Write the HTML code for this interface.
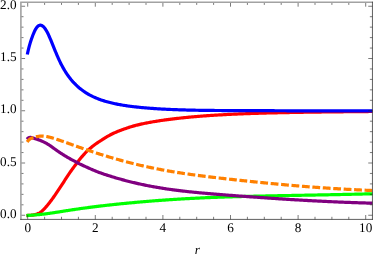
<!DOCTYPE html>
<html><head><meta charset="utf-8"><title>plot</title>
<style>
html,body{margin:0;padding:0;background:#fff;}
body{width:374px;height:259px;overflow:hidden;font-family:"Liberation Serif",serif;}
svg{display:block;position:absolute;left:0;top:0;}
svg.t{will-change:transform;}
</style></head><body>
<svg width="374" height="259" viewBox="0 0 374 259">
<rect width="374" height="259" fill="#fff"/>
<defs><clipPath id="c"><rect x="20.9" y="2.3" width="351.55" height="217.1"/></clipPath></defs>
<g clip-path="url(#c)" fill="none" stroke-linejoin="round">
<path d="M28.00 215.45 L28.50 215.41 L29.00 215.38 L29.50 215.34 L30.00 215.31 L30.50 215.28 L31.00 215.24 L31.50 215.21 L32.00 215.17 L32.50 215.10 L33.00 215.01 L33.50 214.92 L34.00 214.83 L34.50 214.73 L35.00 214.62 L35.50 214.50 L36.00 214.36 L36.50 214.21 L37.00 214.02 L37.50 213.80 L38.00 213.54 L38.50 213.33 L39.00 213.09 L39.50 212.82 L40.00 212.52 L40.50 212.19 L41.00 211.82 L41.50 211.43 L42.00 211.01 L42.50 210.57 L43.00 210.11 L43.50 209.62 L44.00 209.12 L44.50 208.60 L45.00 208.06 L45.50 207.50 L46.00 206.94 L46.50 206.36 L47.00 205.76 L47.50 205.16 L48.00 204.55 L48.50 203.92 L49.00 203.29 L49.50 202.65 L50.00 202.00 L50.50 201.34 L51.00 200.68 L51.50 200.01 L52.00 199.33 L52.50 198.64 L53.00 197.95 L53.50 197.24 L54.00 196.53 L54.50 195.82 L55.00 195.09 L55.50 194.36 L56.00 193.62 L56.50 192.88 L57.00 192.12 L57.50 191.37 L58.00 190.63 L58.50 189.89 L59.00 189.15 L59.50 188.41 L60.00 187.67 L60.50 186.93 L61.00 186.18 L61.50 185.42 L62.00 184.65 L62.50 183.88 L63.00 183.10 L63.50 182.32 L64.00 181.54 L64.50 180.76 L65.00 179.98 L65.50 179.21 L66.00 178.43 L66.50 177.66 L67.00 176.90 L67.50 176.14 L68.00 175.39 L68.50 174.65 L69.00 173.91 L69.50 173.18 L70.00 172.46 L71.00 171.03 L72.00 169.63 L73.00 168.25 L74.00 166.89 L75.00 165.57 L76.00 164.25 L77.00 162.91 L78.00 161.60 L79.00 160.31 L80.00 159.05 L81.00 157.84 L82.00 156.65 L83.00 155.49 L84.00 154.35 L85.00 153.25 L86.00 152.21 L87.00 151.23 L88.00 150.29 L89.00 149.39 L90.00 148.52 L91.00 147.67 L92.00 146.85 L93.00 146.06 L94.00 145.29 L95.00 144.55 L96.00 143.82 L97.00 143.12 L98.00 142.43 L99.00 141.76 L100.00 141.12 L101.00 140.47 L102.00 139.83 L103.00 139.18 L104.00 138.55 L105.00 137.92 L106.00 137.32 L107.00 136.74 L108.00 136.15 L109.00 135.59 L110.00 135.03 L111.00 134.51 L112.00 134.01 L113.00 133.53 L114.00 133.07 L115.00 132.62 L116.00 132.18 L117.00 131.76 L118.00 131.35 L119.00 130.95 L120.00 130.56 L121.00 130.18 L122.00 129.81 L123.00 129.45 L124.00 129.09 L125.00 128.74 L126.00 128.39 L127.00 128.05 L128.00 127.71 L129.00 127.37 L130.00 127.05 L131.00 126.73 L132.00 126.42 L133.00 126.12 L134.00 125.84 L135.00 125.58 L136.00 125.32 L137.00 125.08 L138.00 124.84 L139.00 124.60 L140.00 124.37 L141.00 124.15 L142.00 123.93 L143.00 123.71 L144.00 123.50 L145.00 123.30 L146.00 123.09 L147.00 122.90 L148.00 122.71 L149.00 122.52 L150.00 122.33 L151.00 122.15 L152.00 121.98 L153.00 121.80 L154.00 121.63 L155.00 121.46 L156.00 121.30 L157.00 121.14 L158.00 120.98 L159.00 120.83 L160.00 120.68 L161.00 120.53 L162.00 120.38 L163.00 120.24 L164.00 120.09 L165.00 119.95 L166.00 119.82 L167.00 119.68 L168.00 119.55 L169.00 119.42 L170.00 119.29 L171.00 119.16 L172.00 119.04 L173.00 118.92 L174.00 118.79 L175.00 118.68 L176.00 118.56 L177.00 118.44 L178.00 118.33 L179.00 118.22 L180.00 118.11 L181.00 118.00 L182.00 117.89 L183.00 117.79 L184.00 117.69 L185.00 117.59 L186.00 117.49 L187.00 117.39 L188.00 117.29 L189.00 117.20 L190.00 117.10 L191.00 117.01 L192.00 116.92 L193.00 116.83 L194.00 116.74 L195.00 116.66 L196.00 116.57 L197.00 116.49 L198.00 116.41 L199.00 116.32 L200.00 116.24 L201.00 116.17 L202.00 116.09 L203.00 116.01 L204.00 115.94 L205.00 115.86 L206.00 115.79 L207.00 115.72 L208.00 115.65 L209.00 115.58 L210.00 115.51 L211.00 115.45 L212.00 115.38 L213.00 115.32 L214.00 115.25 L215.00 115.19 L216.00 115.13 L217.00 115.07 L218.00 115.01 L219.00 114.95 L220.00 114.89 L221.00 114.84 L222.00 114.78 L223.00 114.73 L224.00 114.67 L225.00 114.62 L226.00 114.57 L227.00 114.52 L228.00 114.47 L229.00 114.42 L230.00 114.37 L231.00 114.32 L232.00 114.27 L233.00 114.23 L234.00 114.18 L235.00 114.14 L236.00 114.09 L237.00 114.05 L238.00 114.01 L239.00 113.96 L240.00 113.92 L241.00 113.88 L242.00 113.84 L243.00 113.80 L244.00 113.76 L245.00 113.73 L246.00 113.69 L247.00 113.65 L248.00 113.61 L249.00 113.58 L250.00 113.54 L251.00 113.51 L252.00 113.47 L253.00 113.44 L254.00 113.41 L255.00 113.38 L256.00 113.34 L257.00 113.31 L258.00 113.28 L259.00 113.25 L260.00 113.22 L261.00 113.19 L262.00 113.16 L263.00 113.13 L264.00 113.10 L265.00 113.08 L266.00 113.05 L267.00 113.02 L268.00 113.00 L269.00 112.97 L270.00 112.94 L271.00 112.92 L272.00 112.89 L273.00 112.87 L274.00 112.85 L275.00 112.82 L276.00 112.80 L277.00 112.78 L278.00 112.75 L279.00 112.73 L280.00 112.71 L281.00 112.69 L282.00 112.67 L283.00 112.65 L284.00 112.62 L285.00 112.60 L286.00 112.58 L287.00 112.57 L288.00 112.55 L289.00 112.53 L290.00 112.51 L291.00 112.49 L292.00 112.47 L293.00 112.45 L294.00 112.44 L295.00 112.42 L296.00 112.40 L297.00 112.38 L298.00 112.37 L299.00 112.35 L300.00 112.33 L301.00 112.32 L302.00 112.30 L303.00 112.29 L304.00 112.27 L305.00 112.26 L306.00 112.24 L307.00 112.23 L308.00 112.21 L309.00 112.20 L310.00 112.18 L311.00 112.17 L312.00 112.15 L313.00 112.14 L314.00 112.13 L315.00 112.11 L316.00 112.10 L317.00 112.09 L318.00 112.07 L319.00 112.06 L320.00 112.05 L321.00 112.03 L322.00 112.02 L323.00 112.01 L324.00 112.00 L325.00 111.99 L326.00 111.97 L327.00 111.96 L328.00 111.95 L329.00 111.94 L330.00 111.93 L331.00 111.91 L332.00 111.90 L333.00 111.89 L334.00 111.88 L335.00 111.87 L336.00 111.86 L337.00 111.85 L338.00 111.84 L339.00 111.82 L340.00 111.81 L341.00 111.80 L342.00 111.79 L343.00 111.78 L344.00 111.77 L345.00 111.76 L346.00 111.75 L347.00 111.74 L348.00 111.73 L349.00 111.72 L350.00 111.71 L351.00 111.70 L352.00 111.69 L353.00 111.68 L354.00 111.67 L355.00 111.66 L356.00 111.65 L357.00 111.64 L358.00 111.63 L359.00 111.62 L360.00 111.61 L361.00 111.60 L362.00 111.59 L363.00 111.58 L364.00 111.57 L365.00 111.56 L366.00 111.55 L367.00 111.54 L368.00 111.53 L369.00 111.52 L370.00 111.51 L371.00 111.50 L372.00 111.49 L373.00 111.48" stroke="#ff0000" stroke-width="3.2" stroke-linecap="square"/>
<path d="M27.65 52.96 L28.15 50.67 L28.65 48.58 L29.15 46.64 L29.65 44.84 L30.15 43.15 L30.65 41.55 L31.15 40.03 L31.65 38.57 L32.15 37.17 L32.65 35.81 L33.15 34.51 L33.65 33.28 L34.15 32.12 L34.65 31.04 L35.15 30.05 L35.65 29.15 L36.15 28.33 L36.65 27.61 L37.15 26.99 L37.65 26.45 L38.15 26.02 L38.65 25.67 L39.15 25.42 L39.65 25.27 L40.15 25.20 L40.65 25.21 L41.15 25.31 L41.65 25.48 L42.15 25.74 L42.65 26.07 L43.15 26.47 L43.65 26.95 L44.15 27.49 L44.65 28.10 L45.15 28.77 L45.65 29.51 L46.15 30.30 L46.65 31.16 L47.15 32.07 L47.65 33.04 L48.15 34.06 L48.65 35.12 L49.15 36.23 L49.65 37.37 L50.15 38.53 L50.65 39.72 L51.15 40.93 L51.65 42.15 L52.15 43.38 L52.65 44.62 L53.15 45.86 L53.65 47.10 L54.15 48.34 L54.65 49.57 L55.15 50.80 L55.65 52.01 L56.15 53.21 L56.65 54.40 L57.15 55.57 L57.65 56.72 L58.15 57.85 L58.65 58.96 L59.15 60.05 L59.65 61.12 L60.15 62.16 L60.65 63.18 L61.15 64.17 L61.65 65.14 L62.15 66.08 L62.65 67.00 L63.15 67.90 L63.65 68.78 L64.15 69.63 L64.65 70.46 L65.15 71.28 L65.65 72.07 L66.15 72.85 L66.65 73.61 L67.15 74.35 L67.65 75.07 L68.15 75.77 L68.65 76.46 L69.15 77.13 L69.65 77.79 L70.00 78.24 L71.00 79.49 L72.00 80.68 L73.00 81.82 L74.00 82.91 L75.00 83.95 L76.00 84.95 L77.00 85.90 L78.00 86.81 L79.00 87.68 L80.00 88.51 L81.00 89.31 L82.00 90.07 L83.00 90.80 L84.00 91.50 L85.00 92.17 L86.00 92.81 L87.00 93.43 L88.00 94.02 L89.00 94.58 L90.00 95.13 L91.00 95.65 L92.00 96.15 L93.00 96.64 L94.00 97.10 L95.00 97.55 L96.00 97.98 L97.00 98.39 L98.00 98.79 L99.00 99.17 L100.00 99.54 L101.00 99.89 L102.00 100.23 L103.00 100.56 L104.00 100.88 L105.00 101.18 L106.00 101.48 L107.00 101.76 L108.00 102.04 L109.00 102.30 L110.00 102.56 L111.00 102.81 L112.00 103.05 L113.00 103.28 L114.00 103.50 L115.00 103.72 L116.00 103.92 L117.00 104.13 L118.00 104.32 L119.00 104.51 L120.00 104.69 L121.00 104.87 L122.00 105.04 L123.00 105.21 L124.00 105.37 L125.00 105.52 L126.00 105.67 L127.00 105.82 L128.00 105.96 L129.00 106.10 L130.00 106.23 L131.00 106.36 L132.00 106.49 L133.00 106.61 L134.00 106.73 L135.00 106.84 L136.00 106.96 L137.00 107.06 L138.00 107.17 L139.00 107.27 L140.00 107.37 L141.00 107.47 L142.00 107.57 L143.00 107.66 L144.00 107.75 L145.00 107.84 L146.00 107.93 L147.00 108.01 L148.00 108.09 L149.00 108.17 L150.00 108.25 L151.00 108.33 L152.00 108.40 L153.00 108.47 L154.00 108.54 L155.00 108.61 L156.00 108.68 L157.00 108.74 L158.00 108.80 L159.00 108.86 L160.00 108.92 L161.00 108.98 L162.00 109.04 L163.00 109.09 L164.00 109.15 L165.00 109.20 L166.00 109.25 L167.00 109.30 L168.00 109.35 L169.00 109.39 L170.00 109.44 L171.00 109.48 L172.00 109.52 L173.00 109.56 L174.00 109.61 L175.00 109.64 L176.00 109.68 L177.00 109.72 L178.00 109.75 L179.00 109.79 L180.00 109.82 L181.00 109.85 L182.00 109.89 L183.00 109.92 L184.00 109.95 L185.00 109.97 L186.00 110.00 L187.00 110.03 L188.00 110.05 L189.00 110.08 L190.00 110.10 L191.00 110.13 L192.00 110.15 L193.00 110.17 L194.00 110.19 L195.00 110.21 L196.00 110.23 L197.00 110.25 L198.00 110.26 L199.00 110.28 L200.00 110.30 L201.00 110.31 L202.00 110.33 L203.00 110.34 L204.00 110.36 L205.00 110.37 L206.00 110.38 L207.00 110.40 L208.00 110.41 L209.00 110.42 L210.00 110.43 L211.00 110.44 L212.00 110.45 L213.00 110.46 L214.00 110.47 L215.00 110.48 L216.00 110.49 L217.00 110.49 L218.00 110.50 L219.00 110.51 L220.00 110.52 L221.00 110.52 L222.00 110.53 L223.00 110.54 L224.00 110.54 L225.00 110.55 L226.00 110.55 L227.00 110.56 L228.00 110.56 L229.00 110.57 L230.00 110.57 L231.00 110.58 L232.00 110.58 L233.00 110.59 L234.00 110.59 L235.00 110.60 L236.00 110.60 L237.00 110.60 L238.00 110.61 L239.00 110.61 L240.00 110.61 L241.00 110.62 L242.00 110.62 L243.00 110.62 L244.00 110.63 L245.00 110.63 L246.00 110.63 L247.00 110.64 L248.00 110.64 L249.00 110.64 L250.00 110.65 L251.00 110.65 L252.00 110.65 L253.00 110.65 L254.00 110.66 L255.00 110.66 L256.00 110.66 L257.00 110.67 L258.00 110.67 L259.00 110.67 L260.00 110.68 L261.00 110.68 L262.00 110.68 L263.00 110.68 L264.00 110.69 L265.00 110.69 L266.00 110.69 L267.00 110.70 L268.00 110.70 L269.00 110.71 L270.00 110.71 L271.00 110.71 L272.00 110.72 L273.00 110.72 L274.00 110.72 L275.00 110.73 L276.00 110.73 L277.00 110.74 L278.00 110.74 L279.00 110.74 L280.00 110.75 L281.00 110.75 L282.00 110.76 L283.00 110.76 L284.00 110.77 L285.00 110.77 L286.00 110.77 L287.00 110.78 L288.00 110.78 L289.00 110.79 L290.00 110.79 L291.00 110.80 L292.00 110.80 L293.00 110.80 L294.00 110.81 L295.00 110.81 L296.00 110.82 L297.00 110.82 L298.00 110.83 L299.00 110.83 L300.00 110.83 L301.00 110.84 L302.00 110.84 L303.00 110.85 L304.00 110.85 L305.00 110.85 L306.00 110.86 L307.00 110.86 L308.00 110.86 L309.00 110.87 L310.00 110.87 L311.00 110.88 L312.00 110.88 L313.00 110.88 L314.00 110.89 L315.00 110.89 L316.00 110.89 L317.00 110.90 L318.00 110.90 L319.00 110.90 L320.00 110.91 L321.00 110.91 L322.00 110.91 L323.00 110.91 L324.00 110.92 L325.00 110.92 L326.00 110.92 L327.00 110.93 L328.00 110.93 L329.00 110.93 L330.00 110.93 L331.00 110.93 L332.00 110.94 L333.00 110.94 L334.00 110.94 L335.00 110.94 L336.00 110.94 L337.00 110.95 L338.00 110.95 L339.00 110.95 L340.00 110.95 L341.00 110.95 L342.00 110.95 L343.00 110.96 L344.00 110.96 L345.00 110.96 L346.00 110.96 L347.00 110.96 L348.00 110.96 L349.00 110.96 L350.00 110.96 L351.00 110.96 L352.00 110.96 L353.00 110.96 L354.00 110.96 L355.00 110.96 L356.00 110.96 L357.00 110.96 L358.00 110.96 L359.00 110.96 L360.00 110.96 L361.00 110.96 L362.00 110.96 L363.00 110.96 L364.00 110.96 L365.00 110.96 L366.00 110.95 L367.00 110.95 L368.00 110.95 L369.00 110.95 L370.00 110.95 L371.00 110.95 L372.00 110.95 L373.00 110.94" stroke="#0000ff" stroke-width="3.2" stroke-linecap="square"/>
<path d="M28.00 215.45 L28.50 215.41 L29.00 215.38 L29.50 215.34 L30.00 215.31 L30.50 215.28 L31.00 215.24 L31.50 215.21 L32.00 215.17 L32.50 215.13 L33.00 215.10 L33.50 215.06 L34.00 215.02 L34.50 214.98 L35.00 214.94 L35.50 214.90 L36.00 214.86 L36.50 214.82 L37.00 214.77 L37.50 214.73 L38.00 214.68 L38.50 214.64 L39.00 214.59 L39.50 214.54 L40.00 214.49 L40.50 214.44 L41.00 214.39 L41.50 214.33 L42.00 214.28 L42.50 214.22 L43.00 214.17 L43.50 214.11 L44.00 214.05 L44.50 213.99 L45.00 213.93 L45.50 213.87 L46.00 213.81 L46.50 213.74 L47.00 213.68 L47.50 213.61 L48.00 213.54 L48.50 213.47 L49.00 213.40 L49.50 213.33 L50.00 213.26 L50.50 213.19 L51.00 213.12 L51.50 213.04 L52.00 212.97 L52.50 212.89 L53.00 212.82 L53.50 212.74 L54.00 212.67 L54.50 212.59 L55.00 212.51 L55.50 212.44 L56.00 212.36 L56.50 212.28 L57.00 212.20 L57.50 212.12 L58.00 212.05 L58.50 211.97 L59.00 211.89 L59.50 211.81 L60.00 211.73 L60.50 211.65 L61.00 211.57 L61.50 211.49 L62.00 211.41 L62.50 211.33 L63.00 211.26 L63.50 211.18 L64.00 211.10 L64.50 211.02 L65.00 210.94 L65.50 210.86 L66.00 210.78 L66.50 210.70 L67.00 210.63 L67.50 210.55 L68.00 210.47 L68.50 210.39 L69.00 210.32 L69.50 210.24 L70.00 210.16 L71.00 210.01 L72.00 209.85 L73.00 209.70 L74.00 209.55 L75.00 209.40 L76.00 209.26 L77.00 209.11 L78.00 208.96 L79.00 208.82 L80.00 208.68 L81.00 208.53 L82.00 208.39 L83.00 208.25 L84.00 208.12 L85.00 207.98 L86.00 207.85 L87.00 207.71 L88.00 207.58 L89.00 207.45 L90.00 207.32 L91.00 207.19 L92.00 207.06 L93.00 206.93 L94.00 206.81 L95.00 206.68 L96.00 206.56 L97.00 206.44 L98.00 206.31 L99.00 206.19 L100.00 206.07 L101.00 205.96 L102.00 205.84 L103.00 205.72 L104.00 205.61 L105.00 205.49 L106.00 205.38 L107.00 205.27 L108.00 205.15 L109.00 205.04 L110.00 204.93 L111.00 204.82 L112.00 204.72 L113.00 204.61 L114.00 204.50 L115.00 204.40 L116.00 204.29 L117.00 204.19 L118.00 204.09 L119.00 203.98 L120.00 203.88 L121.00 203.78 L122.00 203.68 L123.00 203.58 L124.00 203.48 L125.00 203.38 L126.00 203.29 L127.00 203.19 L128.00 203.10 L129.00 203.00 L130.00 202.91 L131.00 202.81 L132.00 202.72 L133.00 202.63 L134.00 202.54 L135.00 202.44 L136.00 202.35 L137.00 202.26 L138.00 202.18 L139.00 202.09 L140.00 202.00 L141.00 201.91 L142.00 201.83 L143.00 201.74 L144.00 201.66 L145.00 201.57 L146.00 201.49 L147.00 201.40 L148.00 201.32 L149.00 201.24 L150.00 201.16 L151.00 201.08 L152.00 201.00 L153.00 200.92 L154.00 200.84 L155.00 200.77 L156.00 200.69 L157.00 200.61 L158.00 200.54 L159.00 200.46 L160.00 200.39 L161.00 200.32 L162.00 200.24 L163.00 200.17 L164.00 200.10 L165.00 200.03 L166.00 199.96 L167.00 199.89 L168.00 199.83 L169.00 199.76 L170.00 199.69 L171.00 199.62 L172.00 199.56 L173.00 199.49 L174.00 199.43 L175.00 199.37 L176.00 199.30 L177.00 199.24 L178.00 199.18 L179.00 199.12 L180.00 199.06 L181.00 199.00 L182.00 198.94 L183.00 198.88 L184.00 198.83 L185.00 198.77 L186.00 198.71 L187.00 198.66 L188.00 198.60 L189.00 198.55 L190.00 198.49 L191.00 198.44 L192.00 198.39 L193.00 198.34 L194.00 198.29 L195.00 198.24 L196.00 198.19 L197.00 198.14 L198.00 198.09 L199.00 198.04 L200.00 197.99 L201.00 197.95 L202.00 197.90 L203.00 197.85 L204.00 197.81 L205.00 197.76 L206.00 197.72 L207.00 197.68 L208.00 197.64 L209.00 197.59 L210.00 197.55 L211.00 197.51 L212.00 197.47 L213.00 197.43 L214.00 197.39 L215.00 197.35 L216.00 197.32 L217.00 197.28 L218.00 197.24 L219.00 197.20 L220.00 197.17 L221.00 197.13 L222.00 197.10 L223.00 197.06 L224.00 197.03 L225.00 197.00 L226.00 196.97 L227.00 196.93 L228.00 196.90 L229.00 196.87 L230.00 196.84 L231.00 196.81 L232.00 196.78 L233.00 196.75 L234.00 196.72 L235.00 196.69 L236.00 196.67 L237.00 196.64 L238.00 196.61 L239.00 196.58 L240.00 196.56 L241.00 196.53 L242.00 196.50 L243.00 196.48 L244.00 196.45 L245.00 196.43 L246.00 196.40 L247.00 196.38 L248.00 196.36 L249.00 196.33 L250.00 196.31 L251.00 196.29 L252.00 196.26 L253.00 196.24 L254.00 196.22 L255.00 196.19 L256.00 196.17 L257.00 196.15 L258.00 196.13 L259.00 196.11 L260.00 196.09 L261.00 196.06 L262.00 196.04 L263.00 196.02 L264.00 196.00 L265.00 195.98 L266.00 195.96 L267.00 195.94 L268.00 195.92 L269.00 195.90 L270.00 195.88 L271.00 195.86 L272.00 195.84 L273.00 195.82 L274.00 195.80 L275.00 195.78 L276.00 195.76 L277.00 195.74 L278.00 195.72 L279.00 195.70 L280.00 195.69 L281.00 195.67 L282.00 195.65 L283.00 195.63 L284.00 195.61 L285.00 195.59 L286.00 195.57 L287.00 195.55 L288.00 195.53 L289.00 195.52 L290.00 195.50 L291.00 195.48 L292.00 195.46 L293.00 195.44 L294.00 195.42 L295.00 195.40 L296.00 195.39 L297.00 195.37 L298.00 195.35 L299.00 195.33 L300.00 195.31 L301.00 195.29 L302.00 195.27 L303.00 195.26 L304.00 195.24 L305.00 195.22 L306.00 195.20 L307.00 195.18 L308.00 195.16 L309.00 195.14 L310.00 195.12 L311.00 195.11 L312.00 195.09 L313.00 195.07 L314.00 195.05 L315.00 195.03 L316.00 195.01 L317.00 194.99 L318.00 194.97 L319.00 194.95 L320.00 194.93 L321.00 194.91 L322.00 194.89 L323.00 194.87 L324.00 194.85 L325.00 194.84 L326.00 194.82 L327.00 194.80 L328.00 194.78 L329.00 194.76 L330.00 194.74 L331.00 194.72 L332.00 194.70 L333.00 194.68 L334.00 194.65 L335.00 194.63 L336.00 194.61 L337.00 194.59 L338.00 194.57 L339.00 194.55 L340.00 194.53 L341.00 194.51 L342.00 194.49 L343.00 194.47 L344.00 194.45 L345.00 194.42 L346.00 194.40 L347.00 194.38 L348.00 194.36 L349.00 194.34 L350.00 194.32 L351.00 194.29 L352.00 194.27 L353.00 194.25 L354.00 194.23 L355.00 194.20 L356.00 194.18 L357.00 194.16 L358.00 194.14 L359.00 194.11 L360.00 194.09 L361.00 194.07 L362.00 194.04 L363.00 194.02 L364.00 194.00 L365.00 193.97 L366.00 193.95 L367.00 193.93 L368.00 193.90 L369.00 193.88 L370.00 193.85 L371.00 193.83 L372.00 193.80 L373.00 193.78" stroke="#00ff00" stroke-width="3.2" stroke-linecap="square"/>
<path d="M28.00 138.27 L28.50 137.87 L29.00 137.61 L29.50 137.46 L30.00 137.39 L30.50 137.40 L31.00 137.45 L31.50 137.55 L32.00 137.68 L32.50 137.83 L33.00 138.00 L33.50 138.17 L34.00 138.34 L34.50 138.51 L35.00 138.66 L35.50 138.82 L36.00 138.98 L36.50 139.13 L37.00 139.29 L37.50 139.45 L38.00 139.61 L38.50 139.79 L39.00 139.97 L39.50 140.16 L40.00 140.35 L40.50 140.56 L41.00 140.76 L41.50 140.96 L42.00 141.17 L42.50 141.39 L43.00 141.61 L43.50 141.84 L44.00 142.09 L44.50 142.34 L45.00 142.61 L45.50 142.89 L46.00 143.17 L46.50 143.45 L47.00 143.74 L47.50 144.03 L48.00 144.33 L48.50 144.63 L49.00 144.94 L49.50 145.26 L50.00 145.59 L50.50 145.93 L51.00 146.28 L51.50 146.65 L52.00 147.01 L52.50 147.37 L53.00 147.74 L53.50 148.10 L54.00 148.46 L54.50 148.82 L55.00 149.18 L55.50 149.54 L56.00 149.90 L56.50 150.25 L57.00 150.60 L57.50 150.95 L58.00 151.30 L58.50 151.64 L59.00 151.98 L59.50 152.32 L60.00 152.65 L60.50 152.98 L61.00 153.31 L61.50 153.63 L62.00 153.95 L62.50 154.27 L63.00 154.59 L63.50 154.90 L64.00 155.21 L64.50 155.52 L65.00 155.82 L65.50 156.12 L66.00 156.42 L66.50 156.72 L67.00 157.01 L67.50 157.31 L68.00 157.60 L68.50 157.89 L69.00 158.17 L69.50 158.45 L70.00 158.73 L71.00 159.29 L72.00 159.84 L73.00 160.38 L74.00 160.91 L75.00 161.45 L76.00 161.99 L77.00 162.52 L78.00 163.04 L79.00 163.56 L80.00 164.06 L81.00 164.55 L82.00 165.03 L83.00 165.50 L84.00 165.96 L85.00 166.42 L86.00 166.87 L87.00 167.32 L88.00 167.76 L89.00 168.21 L90.00 168.65 L91.00 169.09 L92.00 169.53 L93.00 169.96 L94.00 170.39 L95.00 170.81 L96.00 171.22 L97.00 171.63 L98.00 172.02 L99.00 172.39 L100.00 172.76 L101.00 173.11 L102.00 173.45 L103.00 173.80 L104.00 174.14 L105.00 174.47 L106.00 174.80 L107.00 175.13 L108.00 175.45 L109.00 175.77 L110.00 176.09 L111.00 176.40 L112.00 176.71 L113.00 177.01 L114.00 177.31 L115.00 177.61 L116.00 177.91 L117.00 178.20 L118.00 178.49 L119.00 178.77 L120.00 179.05 L121.00 179.33 L122.00 179.61 L123.00 179.88 L124.00 180.15 L125.00 180.42 L126.00 180.68 L127.00 180.94 L128.00 181.20 L129.00 181.45 L130.00 181.70 L131.00 181.95 L132.00 182.19 L133.00 182.44 L134.00 182.67 L135.00 182.91 L136.00 183.14 L137.00 183.37 L138.00 183.60 L139.00 183.82 L140.00 184.04 L141.00 184.26 L142.00 184.48 L143.00 184.69 L144.00 184.90 L145.00 185.10 L146.00 185.31 L147.00 185.51 L148.00 185.71 L149.00 185.90 L150.00 186.09 L151.00 186.28 L152.00 186.47 L153.00 186.65 L154.00 186.84 L155.00 187.01 L156.00 187.19 L157.00 187.36 L158.00 187.54 L159.00 187.70 L160.00 187.87 L161.00 188.03 L162.00 188.20 L163.00 188.35 L164.00 188.51 L165.00 188.66 L166.00 188.82 L167.00 188.96 L168.00 189.11 L169.00 189.26 L170.00 189.40 L171.00 189.54 L172.00 189.67 L173.00 189.81 L174.00 189.94 L175.00 190.07 L176.00 190.20 L177.00 190.33 L178.00 190.45 L179.00 190.58 L180.00 190.70 L181.00 190.82 L182.00 190.94 L183.00 191.05 L184.00 191.17 L185.00 191.28 L186.00 191.39 L187.00 191.50 L188.00 191.61 L189.00 191.72 L190.00 191.82 L191.00 191.93 L192.00 192.03 L193.00 192.13 L194.00 192.23 L195.00 192.33 L196.00 192.43 L197.00 192.53 L198.00 192.62 L199.00 192.72 L200.00 192.81 L201.00 192.91 L202.00 193.00 L203.00 193.09 L204.00 193.18 L205.00 193.27 L206.00 193.36 L207.00 193.45 L208.00 193.54 L209.00 193.62 L210.00 193.71 L211.00 193.80 L212.00 193.88 L213.00 193.96 L214.00 194.05 L215.00 194.13 L216.00 194.21 L217.00 194.29 L218.00 194.38 L219.00 194.46 L220.00 194.54 L221.00 194.62 L222.00 194.69 L223.00 194.77 L224.00 194.85 L225.00 194.93 L226.00 195.01 L227.00 195.08 L228.00 195.16 L229.00 195.24 L230.00 195.31 L231.00 195.39 L232.00 195.46 L233.00 195.54 L234.00 195.61 L235.00 195.69 L236.00 195.76 L237.00 195.84 L238.00 195.91 L239.00 195.98 L240.00 196.06 L241.00 196.13 L242.00 196.20 L243.00 196.27 L244.00 196.35 L245.00 196.42 L246.00 196.49 L247.00 196.56 L248.00 196.63 L249.00 196.71 L250.00 196.78 L251.00 196.85 L252.00 196.92 L253.00 196.99 L254.00 197.06 L255.00 197.13 L256.00 197.20 L257.00 197.28 L258.00 197.35 L259.00 197.42 L260.00 197.49 L261.00 197.56 L262.00 197.63 L263.00 197.70 L264.00 197.77 L265.00 197.83 L266.00 197.90 L267.00 197.97 L268.00 198.04 L269.00 198.11 L270.00 198.18 L271.00 198.25 L272.00 198.31 L273.00 198.38 L274.00 198.45 L275.00 198.51 L276.00 198.58 L277.00 198.65 L278.00 198.71 L279.00 198.78 L280.00 198.84 L281.00 198.91 L282.00 198.97 L283.00 199.04 L284.00 199.10 L285.00 199.16 L286.00 199.23 L287.00 199.29 L288.00 199.35 L289.00 199.42 L290.00 199.48 L291.00 199.54 L292.00 199.60 L293.00 199.66 L294.00 199.72 L295.00 199.78 L296.00 199.84 L297.00 199.90 L298.00 199.96 L299.00 200.02 L300.00 200.08 L301.00 200.13 L302.00 200.19 L303.00 200.25 L304.00 200.31 L305.00 200.36 L306.00 200.42 L307.00 200.47 L308.00 200.53 L309.00 200.58 L310.00 200.64 L311.00 200.69 L312.00 200.75 L313.00 200.80 L314.00 200.85 L315.00 200.90 L316.00 200.96 L317.00 201.01 L318.00 201.06 L319.00 201.11 L320.00 201.16 L321.00 201.21 L322.00 201.26 L323.00 201.31 L324.00 201.36 L325.00 201.40 L326.00 201.45 L327.00 201.50 L328.00 201.55 L329.00 201.59 L330.00 201.64 L331.00 201.68 L332.00 201.73 L333.00 201.77 L334.00 201.82 L335.00 201.86 L336.00 201.91 L337.00 201.95 L338.00 201.99 L339.00 202.03 L340.00 202.07 L341.00 202.12 L342.00 202.16 L343.00 202.20 L344.00 202.24 L345.00 202.28 L346.00 202.32 L347.00 202.35 L348.00 202.39 L349.00 202.43 L350.00 202.47 L351.00 202.50 L352.00 202.54 L353.00 202.58 L354.00 202.61 L355.00 202.65 L356.00 202.68 L357.00 202.72 L358.00 202.75 L359.00 202.78 L360.00 202.82 L361.00 202.85 L362.00 202.88 L363.00 202.91 L364.00 202.94 L365.00 202.97 L366.00 203.00 L367.00 203.03 L368.00 203.06 L369.00 203.09 L370.00 203.12 L371.00 203.15 L372.00 203.18 L373.00 203.20" stroke="#800080" stroke-width="3.2" stroke-linecap="square"/>
<path d="M27.20 142.00 L27.70 141.24 L28.20 140.61 L28.70 140.07 L29.20 139.62 L29.70 139.24 L30.20 138.91 L30.70 138.63 L31.20 138.39 L31.70 138.17 L32.20 137.98 L32.70 137.81 L33.20 137.64 L33.70 137.49 L34.20 137.34 L34.70 137.19 L35.20 137.05 L35.70 136.92 L36.20 136.79 L36.70 136.68 L37.20 136.57 L37.70 136.47 L38.20 136.38 L38.70 136.30 L39.20 136.24 L39.70 136.18 L40.20 136.13 L40.70 136.10 L41.20 136.08 L41.70 136.06 L42.20 136.06 L42.70 136.07 L43.20 136.09 L43.70 136.13 L44.20 136.17 L44.70 136.22 L45.20 136.29 L45.70 136.36 L46.20 136.44 L46.70 136.53 L47.20 136.62 L47.70 136.72 L48.20 136.83 L48.70 136.95 L49.20 137.07 L49.70 137.19 L50.20 137.32 L50.70 137.45 L51.20 137.59 L51.70 137.73 L52.20 137.87 L52.70 138.02 L53.20 138.17 L53.70 138.32 L54.20 138.48 L54.70 138.64 L55.20 138.80 L55.70 138.96 L56.20 139.12 L56.70 139.29 L57.20 139.45 L57.70 139.62 L58.20 139.79 L58.70 139.96 L59.20 140.13 L59.70 140.30 L60.20 140.48 L60.70 140.65 L61.20 140.82 L61.70 141.00 L62.20 141.17 L62.70 141.35 L63.20 141.52 L63.70 141.70 L64.20 141.88 L64.70 142.06 L65.20 142.23 L65.70 142.41 L66.20 142.59 L66.70 142.77 L67.20 142.95 L67.70 143.12 L68.20 143.30 L68.70 143.48 L69.20 143.66 L69.70 143.84 L70.00 143.95 L71.00 144.30 L72.00 144.66 L73.00 145.02 L74.00 145.37 L75.00 145.73 L76.00 146.08 L77.00 146.44 L78.00 146.79 L79.00 147.14 L80.00 147.49 L81.00 147.84 L82.00 148.19 L83.00 148.54 L84.00 148.88 L85.00 149.23 L86.00 149.57 L87.00 149.91 L88.00 150.25 L89.00 150.59 L90.00 150.92 L91.00 151.26 L92.00 151.59 L93.00 151.92 L94.00 152.25 L95.00 152.57 L96.00 152.90 L97.00 153.22 L98.00 153.54 L99.00 153.86 L100.00 154.18 L101.00 154.49 L102.00 154.80 L103.00 155.11 L104.00 155.42 L105.00 155.73 L106.00 156.04 L107.00 156.34 L108.00 156.64 L109.00 156.94 L110.00 157.23 L111.00 157.53 L112.00 157.82 L113.00 158.11 L114.00 158.40 L115.00 158.69 L116.00 158.98 L117.00 159.26 L118.00 159.54 L119.00 159.82 L120.00 160.10 L121.00 160.37 L122.00 160.65 L123.00 160.92 L124.00 161.19 L125.00 161.46 L126.00 161.72 L127.00 161.98 L128.00 162.24 L129.00 162.50 L130.00 162.76 L131.00 163.01 L132.00 163.27 L133.00 163.52 L134.00 163.76 L135.00 164.01 L136.00 164.25 L137.00 164.49 L138.00 164.73 L139.00 164.97 L140.00 165.20 L141.00 165.44 L142.00 165.67 L143.00 165.89 L144.00 166.12 L145.00 166.34 L146.00 166.56 L147.00 166.78 L148.00 167.00 L149.00 167.22 L150.00 167.43 L151.00 167.64 L152.00 167.85 L153.00 168.05 L154.00 168.26 L155.00 168.46 L156.00 168.66 L157.00 168.86 L158.00 169.05 L159.00 169.25 L160.00 169.44 L161.00 169.63 L162.00 169.81 L163.00 170.00 L164.00 170.18 L165.00 170.36 L166.00 170.54 L167.00 170.72 L168.00 170.90 L169.00 171.07 L170.00 171.24 L171.00 171.41 L172.00 171.58 L173.00 171.74 L174.00 171.91 L175.00 172.07 L176.00 172.23 L177.00 172.39 L178.00 172.55 L179.00 172.70 L180.00 172.86 L181.00 173.01 L182.00 173.16 L183.00 173.31 L184.00 173.46 L185.00 173.61 L186.00 173.75 L187.00 173.90 L188.00 174.04 L189.00 174.18 L190.00 174.32 L191.00 174.46 L192.00 174.60 L193.00 174.74 L194.00 174.87 L195.00 175.01 L196.00 175.14 L197.00 175.28 L198.00 175.41 L199.00 175.54 L200.00 175.67 L201.00 175.80 L202.00 175.93 L203.00 176.05 L204.00 176.18 L205.00 176.31 L206.00 176.43 L207.00 176.56 L208.00 176.68 L209.00 176.80 L210.00 176.93 L211.00 177.05 L212.00 177.17 L213.00 177.29 L214.00 177.41 L215.00 177.53 L216.00 177.64 L217.00 177.76 L218.00 177.88 L219.00 177.99 L220.00 178.11 L221.00 178.23 L222.00 178.34 L223.00 178.45 L224.00 178.57 L225.00 178.68 L226.00 178.79 L227.00 178.91 L228.00 179.02 L229.00 179.13 L230.00 179.24 L231.00 179.35 L232.00 179.46 L233.00 179.57 L234.00 179.68 L235.00 179.79 L236.00 179.89 L237.00 180.00 L238.00 180.11 L239.00 180.22 L240.00 180.32 L241.00 180.43 L242.00 180.54 L243.00 180.64 L244.00 180.75 L245.00 180.85 L246.00 180.96 L247.00 181.06 L248.00 181.17 L249.00 181.27 L250.00 181.38 L251.00 181.48 L252.00 181.58 L253.00 181.69 L254.00 181.79 L255.00 181.89 L256.00 181.99 L257.00 182.09 L258.00 182.20 L259.00 182.30 L260.00 182.40 L261.00 182.50 L262.00 182.60 L263.00 182.70 L264.00 182.80 L265.00 182.90 L266.00 183.00 L267.00 183.09 L268.00 183.19 L269.00 183.29 L270.00 183.39 L271.00 183.48 L272.00 183.58 L273.00 183.68 L274.00 183.77 L275.00 183.87 L276.00 183.96 L277.00 184.05 L278.00 184.15 L279.00 184.24 L280.00 184.33 L281.00 184.43 L282.00 184.52 L283.00 184.61 L284.00 184.70 L285.00 184.79 L286.00 184.88 L287.00 184.97 L288.00 185.06 L289.00 185.14 L290.00 185.23 L291.00 185.32 L292.00 185.40 L293.00 185.49 L294.00 185.58 L295.00 185.66 L296.00 185.75 L297.00 185.83 L298.00 185.91 L299.00 186.00 L300.00 186.08 L301.00 186.16 L302.00 186.24 L303.00 186.32 L304.00 186.40 L305.00 186.48 L306.00 186.56 L307.00 186.64 L308.00 186.72 L309.00 186.79 L310.00 186.87 L311.00 186.94 L312.00 187.02 L313.00 187.10 L314.00 187.17 L315.00 187.24 L316.00 187.32 L317.00 187.39 L318.00 187.46 L319.00 187.53 L320.00 187.60 L321.00 187.67 L322.00 187.74 L323.00 187.81 L324.00 187.88 L325.00 187.95 L326.00 188.02 L327.00 188.08 L328.00 188.15 L329.00 188.22 L330.00 188.28 L331.00 188.35 L332.00 188.41 L333.00 188.47 L334.00 188.54 L335.00 188.60 L336.00 188.66 L337.00 188.72 L338.00 188.78 L339.00 188.84 L340.00 188.90 L341.00 188.96 L342.00 189.02 L343.00 189.07 L344.00 189.13 L345.00 189.19 L346.00 189.24 L347.00 189.30 L348.00 189.35 L349.00 189.41 L350.00 189.46 L351.00 189.51 L352.00 189.56 L353.00 189.62 L354.00 189.67 L355.00 189.72 L356.00 189.77 L357.00 189.82 L358.00 189.86 L359.00 189.91 L360.00 189.96 L361.00 190.01 L362.00 190.05 L363.00 190.10 L364.00 190.14 L365.00 190.19 L366.00 190.23 L367.00 190.28 L368.00 190.32 L369.00 190.36 L370.00 190.40 L371.00 190.45 L372.00 190.49 L373.00 190.53" stroke="#ff8000" stroke-width="3.2" stroke-dasharray="7.8 2.66"/>
</g>
<path d="M27.7 219.4v-4.4M27.7 2.3v4.4M44.6 219.4v-2.6M44.6 2.3v2.6M61.5 219.4v-2.6M61.5 2.3v2.6M78.4 219.4v-2.6M78.4 2.3v2.6M95.3 219.4v-4.4M95.3 2.3v4.4M112.2 219.4v-2.6M112.2 2.3v2.6M129.1 219.4v-2.6M129.1 2.3v2.6M146 219.4v-2.6M146 2.3v2.6M162.9 219.4v-4.4M162.9 2.3v4.4M179.8 219.4v-2.6M179.8 2.3v2.6M196.7 219.4v-2.6M196.7 2.3v2.6M213.6 219.4v-2.6M213.6 2.3v2.6M230.5 219.4v-4.4M230.5 2.3v4.4M247.4 219.4v-2.6M247.4 2.3v2.6M264.3 219.4v-2.6M264.3 2.3v2.6M281.2 219.4v-2.6M281.2 2.3v2.6M298.1 219.4v-4.4M298.1 2.3v4.4M315 219.4v-2.6M315 2.3v2.6M331.9 219.4v-2.6M331.9 2.3v2.6M348.8 219.4v-2.6M348.8 2.3v2.6M365.7 219.4v-4.4M365.7 2.3v4.4M20.9 215.25h4.2M372.45 215.25h-4.2M20.9 204.8h2.6M372.45 204.8h-2.6M20.9 194.35h2.6M372.45 194.35h-2.6M20.9 183.9h2.6M372.45 183.9h-2.6M20.9 173.45h2.6M372.45 173.45h-2.6M20.9 163h4.2M372.45 163h-4.2M20.9 152.55h2.6M372.45 152.55h-2.6M20.9 142.1h2.6M372.45 142.1h-2.6M20.9 131.65h2.6M372.45 131.65h-2.6M20.9 121.2h2.6M372.45 121.2h-2.6M20.9 110.75h4.2M372.45 110.75h-4.2M20.9 100.3h2.6M372.45 100.3h-2.6M20.9 89.85h2.6M372.45 89.85h-2.6M20.9 79.4h2.6M372.45 79.4h-2.6M20.9 68.95h2.6M372.45 68.95h-2.6M20.9 58.5h4.2M372.45 58.5h-4.2M20.9 48.05h2.6M372.45 48.05h-2.6M20.9 37.6h2.6M372.45 37.6h-2.6M20.9 27.15h2.6M372.45 27.15h-2.6M20.9 16.7h2.6M372.45 16.7h-2.6M20.9 6.25h4.2M372.45 6.25h-4.2" stroke="#222" stroke-width="0.6" fill="none"/>
<path d="M20.9 1.7V219.8M20.2 2.25H372.85" fill="none" stroke="#a2a2a2" stroke-width="1.6"/>
<path d="M372.45 1.7V219.8M20.2 219.4H372.85" fill="none" stroke="#2a2a2a" stroke-width="0.75"/>
</svg>
<svg class="t" width="374" height="259" viewBox="0 0 374 259"><g font-family="'Liberation Serif', serif" font-size="13.2" fill="#000" text-rendering="geometricPrecision"><text x="16.6" y="217.75" text-anchor="end">0.0</text><text x="16.6" y="165.5" text-anchor="end">0.5</text><text x="16.6" y="113.25" text-anchor="end">1.0</text><text x="16.6" y="61" text-anchor="end">1.5</text><text x="16.6" y="8.75" text-anchor="end">2.0</text><text x="27.7" y="232.4" text-anchor="middle">0</text><text x="95.3" y="232.4" text-anchor="middle">2</text><text x="162.9" y="232.4" text-anchor="middle">4</text><text x="230.5" y="232.4" text-anchor="middle">6</text><text x="298.1" y="232.4" text-anchor="middle">8</text><text x="365.7" y="232.4" text-anchor="middle">10</text><text x="197.2" y="253.7" text-anchor="middle" font-style="italic">r</text></g></svg>
</body></html>
